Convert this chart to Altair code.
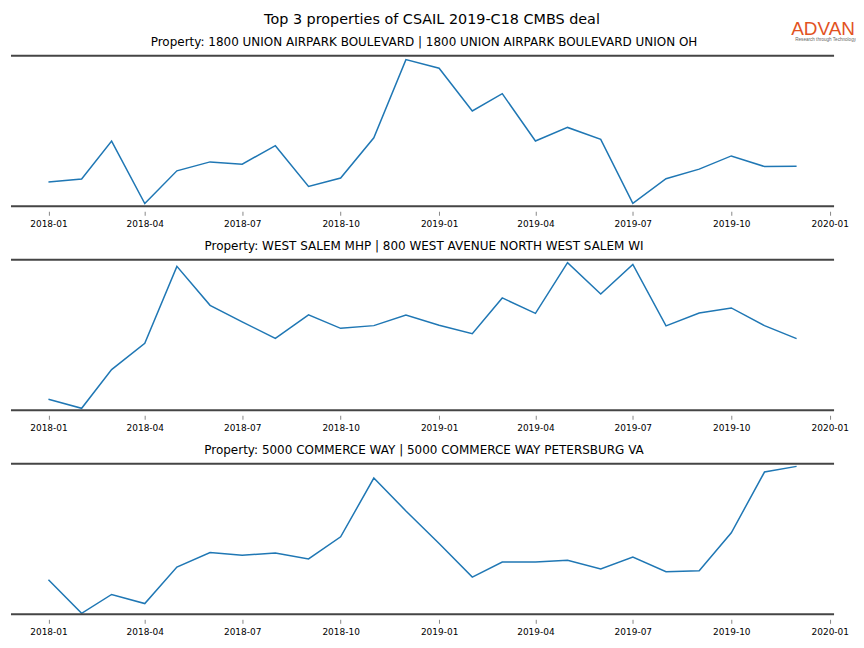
import altair as alt
import pandas as pd

months = ["2018-01-01", "2018-02-01", "2018-03-01", "2018-04-01", "2018-05-01", "2018-06-01",
          "2018-07-01", "2018-08-01", "2018-09-01", "2018-10-01", "2018-11-01", "2018-12-01",
          "2019-01-01", "2019-02-01", "2019-03-01", "2019-04-01", "2019-05-01", "2019-06-01",
          "2019-07-01", "2019-08-01", "2019-09-01", "2019-10-01", "2019-11-01", "2019-12-01"]

tick_labels = ["2018-01", "2018-04", "2018-07", "2018-10", "2019-01",
               "2019-04", "2019-07", "2019-10", "2020-01"]

main_title = "Top 3 properties of CSAIL 2019-C18 CMBS deal"
panel_titles = [
    "Property: 1800 UNION AIRPARK BOULEVARD | 1800 UNION AIRPARK BOULEVARD UNION OH",
    "Property: WEST SALEM MHP | 800 WEST AVENUE NORTH WEST SALEM WI",
    "Property: 5000 COMMERCE WAY | 5000 COMMERCE WAY PETERSBURG VA",
]

values_1 = [24.4, 27.4, 65.7, 2.7, 35.7, 44.7, 42.4, 61.0, 20.0, 28.4, 69.0, 147.7,
            139.0, 96.0, 113.4, 65.7, 79.4, 67.4, 3.0, 27.7, 37.4, 50.7, 40.0, 40.4]
values_2 = [11.0, 2.0, 40.7, 67.0, 144.0, 105.0, 88.4, 72.0, 95.4, 82.0, 84.7, 95.4,
            85.0, 76.7, 112.4, 97.0, 147.7, 116.4, 146.0, 84.4, 97.4, 102.4, 84.7, 71.7]
values_3 = [34.4, 1.0, 19.7, 10.7, 47.0, 61.4, 58.7, 61.0, 55.0, 77.0, 135.4, 102.7,
            70.4, 37.0, 52.0, 52.0, 53.7, 45.0, 57.0, 42.4, 43.4, 81.0, 141.4, 147.0]
y_max = [151.7, 150.7, 149.7]

W = 825
H = 151
FONT = "DejaVu Sans"
FRAME = "#454545"

x_start = alt.DateTime(year=2017, month=11, date=27, utc=True)
x_end = alt.DateTime(year=2020, month=1, date=5, utc=True)
tick_values = [alt.DateTime(year=int(t[:4]), month=int(t[5:]), date=1, utc=True) for t in tick_labels]


def panel(title, values, ymax, first=False):
    df = pd.DataFrame({"month": months, "value": values})
    xenc = alt.X("month:T", title=None,
                 scale=alt.Scale(type="utc", domain=[x_start, x_end]),
                 axis=alt.Axis(values=tick_values, format="%Y-%m", labelFontSize=9,
                               labelFont=FONT, labelColor="black", tickColor="#888",
                               tickSize=4, tickWidth=1, domain=False, grid=False,
                               offset=5, labelPadding=4, labelFlush=False))
    yscale = alt.Scale(domain=[0, ymax], nice=False, zero=False)
    line = alt.Chart(df).mark_line(color="#1f77b4", strokeWidth=1.5).encode(
        x=xenc, y=alt.Y("value:Q", scale=yscale, axis=None))
    one = pd.DataFrame({"k": [0]})
    top_rule = alt.Chart(one).mark_rule(color=FRAME, strokeWidth=2).encode(
        y=alt.datum(ymax), x=alt.datum(x_start), x2=alt.datum(x_end))
    bot_rule = alt.Chart(one).mark_rule(color=FRAME, strokeWidth=2).encode(
        y=alt.datum(0), x=alt.datum(x_start), x2=alt.datum(x_end))
    ttl = alt.Chart(one).mark_text(font=FONT, fontSize=12, color="black",
                                   baseline="middle", align="center").encode(
        x=alt.value(W / 2 + 1.5), y=alt.value(-13.5), text=alt.value(title))
    layers = [line, top_rule, bot_rule, ttl]
    if first:
        layers.append(alt.Chart(one).mark_text(font=FONT, fontSize=14.4, color="black",
                                               baseline="middle", align="center").encode(
            x=alt.value(422), y=alt.value(-36), text=alt.value(main_title)))
        layers.append(alt.Chart(one).mark_text(font="Liberation Sans", fontSize=19,
                                               color="#E2531F", baseline="alphabetic",
                                               align="right").encode(
            x=alt.value(846), y=alt.value(-20.5), text=alt.value("ADVAN")))
        layers.append(alt.Chart(one).mark_text(font="Liberation Sans", fontSize=4.6,
                                               color="#666666", baseline="alphabetic",
                                               align="right").encode(
            x=alt.value(847), y=alt.value(-14.5), text=alt.value("Research through Technology")))
    return alt.layer(*layers).properties(width=W, height=H)


chart = alt.vconcat(
    panel(panel_titles[0], values_1, y_max[0], first=True),
    panel(panel_titles[1], values_2, y_max[1]),
    panel(panel_titles[2], values_3, y_max[2]),
    spacing=53.5, bounds="flush",
).properties(
    padding={"left": 2, "top": 3, "right": 0, "bottom": 0}
).configure_view(stroke=None)

chart.save("out.html", embed_options={"renderer": "svg", "actions": False})
